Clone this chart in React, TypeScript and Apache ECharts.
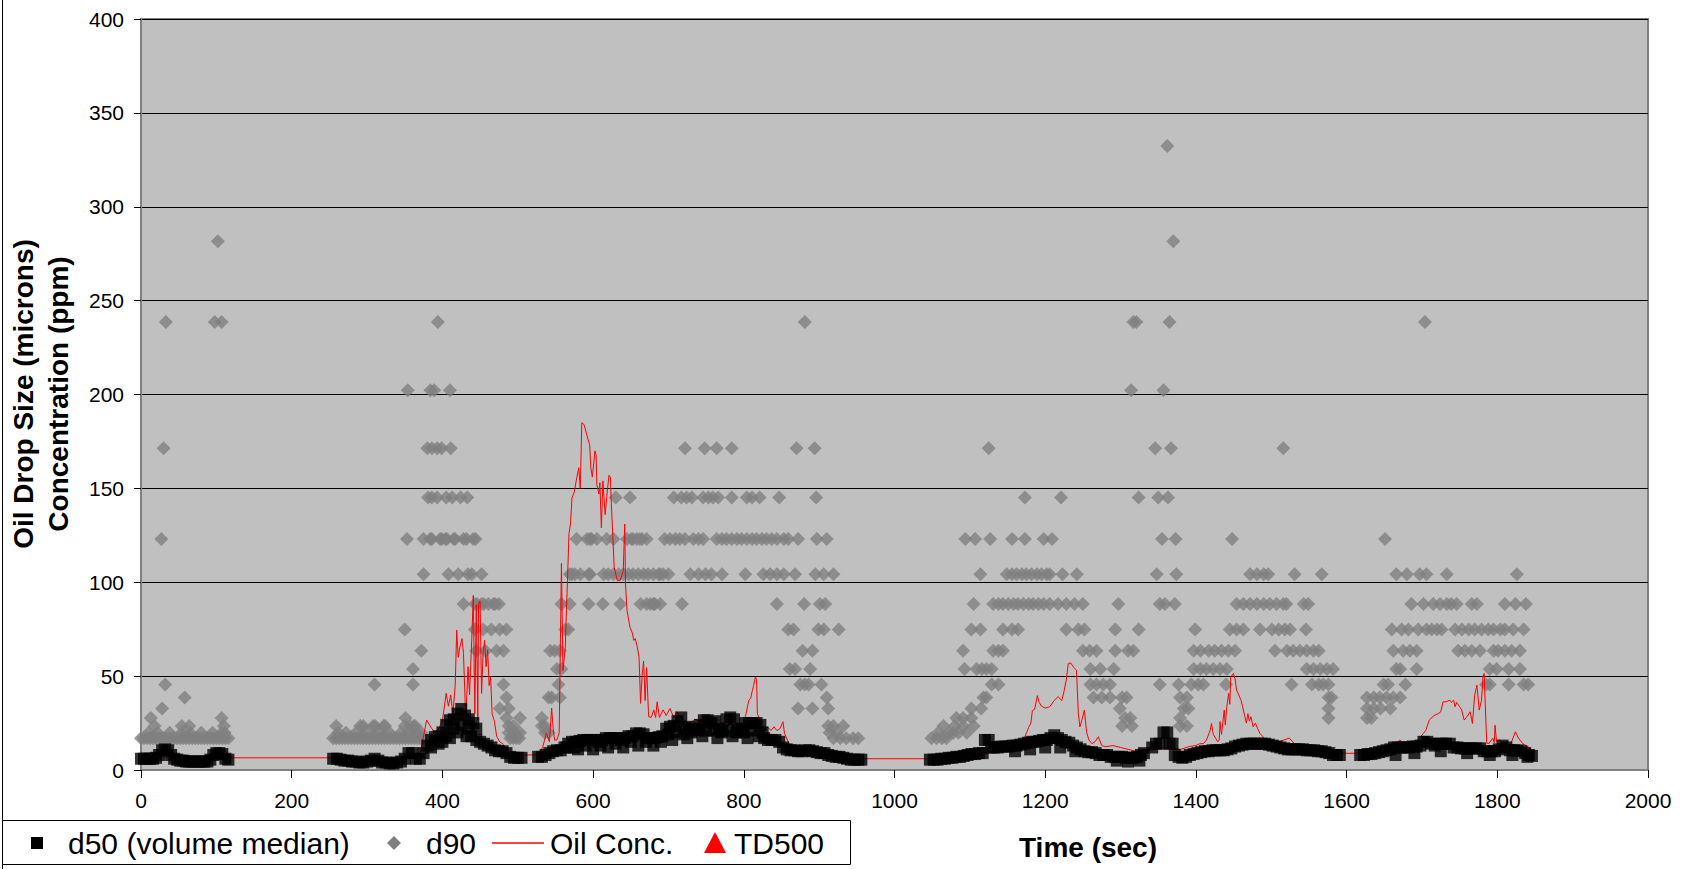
import React, { useEffect, useRef } from "react";
import * as echarts from "echarts";

const FONT = '"Liberation Sans", Arial, sans-serif';

// x axis (Time, sec) and y axis (Oil drop size / concentration) ranges
const xRange = [0, 2000, 200];
const yRange = [0, 400, 50];

// d90 size bins (microns) and the times (sec) at which d90 falls in each bin
const d90Levels = [16.9, 19.9, 23.5, 27.7, 32.7, 38.6, 45.6, 53.8, 63.5, 74.9, 88.4, 104.3, 123.1, 145.2, 171.4, 202.2, 238.6, 281.6, 332.4];
const d90Times: number[][] = [
  [0, 4, 8, 12, 16, 20, 24, 28, 32, 36, 40, 44, 48, 52, 56, 60, 64, 68, 72, 76, 80, 84, 88, 92, 96, 100, 104, 108, 112, 116, 255, 259, 263, 267, 271, 275, 279, 283, 287, 291, 295, 299, 303, 307, 311, 315, 319, 323, 327, 331, 335, 339, 343, 347, 351, 355, 359, 363, 367, 371, 375, 490, 494, 498, 502, 919, 928, 936, 945, 952, 1049, 1056, 1063, 1069],
  [10, 22, 38, 54, 65, 80, 95, 107, 111, 262, 272, 285, 300, 315, 330, 345, 355, 366, 372, 488, 497, 503, 536, 541, 914, 923, 1058, 1072, 1078, 1085, 1096],
  [18, 54, 64, 110, 259, 291, 295, 308, 311, 322, 324, 350, 357, 362, 364, 488, 494, 532, 536, 912, 919, 932, 1065, 1080, 1091, 1105, 1302, 1315, 1379, 1388],
  [13, 107, 351, 485, 503, 532, 1082, 1091, 1102, 1306, 1313, 1379, 1576, 1627, 1633],
  [28, 476, 488, 872, 891, 912, 1102, 1115, 1299, 1384, 1390, 1576, 1627, 1636, 1645, 1658],
  [58, 485, 541, 545, 556, 910, 1118, 1122, 1264, 1275, 1286, 1302, 1308, 1379, 1388, 1576, 1580, 1627, 1636, 1644, 1653, 1662, 1671],
  [32, 310, 361, 481, 554, 875, 881, 886, 903, 1129, 1138, 1260, 1268, 1277, 1286, 1352, 1377, 1394, 1403, 1410, 1440, 1527, 1554, 1563, 1569, 1576, 1649, 1655, 1678, 1785, 1790, 1815, 1835, 1841],
  [361, 552, 558, 861, 868, 888, 1093, 1109, 1116, 1122, 1129, 1260, 1273, 1291, 1397, 1406, 1414, 1423, 1432, 1441, 1547, 1556, 1565, 1574, 1582, 1666, 1671, 1693, 1790, 1799, 1815, 1830],
  [372, 445, 457, 472, 481, 543, 549, 556, 878, 891, 1091, 1131, 1138, 1144, 1250, 1259, 1268, 1293, 1310, 1317, 1397, 1406, 1417, 1425, 1434, 1443, 1452, 1505, 1521, 1529, 1538, 1547, 1556, 1563, 1662, 1675, 1684, 1693, 1748, 1757, 1766, 1777, 1795, 1801, 1810, 1819, 1830],
  [350, 443, 454, 465, 476, 485, 563, 567, 859, 866, 899, 906, 926, 1102, 1114, 1144, 1156, 1164, 1228, 1244, 1252, 1293, 1324, 1399, 1445, 1454, 1463, 1485, 1501, 1510, 1518, 1525, 1546, 1660, 1673, 1682, 1695, 1706, 1713, 1720, 1726, 1744, 1753, 1762, 1770, 1779, 1788, 1795, 1804, 1810, 1821, 1835],
  [428, 443, 446, 452, 455, 461, 468, 470, 475, 558, 569, 594, 613, 636, 663, 671, 676, 680, 682, 689, 718, 844, 880, 901, 908, 1105, 1131, 1138, 1144, 1151, 1158, 1164, 1171, 1178, 1184, 1191, 1198, 1206, 1217, 1228, 1239, 1250, 1297, 1352, 1359, 1372, 1454, 1463, 1472, 1481, 1490, 1498, 1507, 1516, 1520, 1543, 1549, 1686, 1702, 1715, 1724, 1733, 1739, 1746, 1766, 1773, 1810, 1824, 1838],
  [375, 408, 421, 434, 439, 452, 569, 572, 576, 583, 594, 596, 614, 620, 627, 634, 640, 647, 653, 660, 667, 673, 680, 687, 689, 693, 700, 729, 740, 749, 757, 771, 802, 826, 835, 844, 853, 868, 895, 906, 919, 1114, 1149, 1156, 1162, 1169, 1175, 1182, 1189, 1195, 1202, 1206, 1223, 1242, 1348, 1374, 1472, 1481, 1490, 1496, 1531, 1567, 1666, 1680, 1697, 1706, 1733, 1826],
  [27, 353, 375, 384, 386, 397, 399, 404, 406, 415, 417, 428, 432, 441, 444, 578, 592, 596, 598, 605, 618, 627, 645, 651, 653, 658, 662, 665, 671, 695, 702, 709, 715, 722, 733, 740, 746, 764, 771, 777, 784, 791, 797, 804, 811, 817, 824, 830, 837, 844, 853, 859, 872, 897, 910, 1094, 1107, 1127, 1156, 1173, 1198, 1209, 1355, 1373, 1448, 1651],
  [381, 386, 393, 405, 413, 424, 433, 630, 649, 707, 717, 724, 731, 746, 753, 759, 766, 784, 804, 811, 821, 847, 896, 1173, 1221, 1324, 1350, 1363],
  [30, 380, 386, 393, 399, 411, 722, 748, 764, 784, 870, 894, 1125, 1346, 1367, 1516],
  [354, 384, 389, 410, 1314, 1357],
  [33, 98, 107, 394, 881, 1317, 1321, 1365, 1704],
  [102, 1370],
  [1362],
];

// d50 (volume median), [time sec, microns]
const d50Points: number[][] = [
  [0, 6], [4, 6], [8, 6], [12, 6], [16, 6], [20, 6.5], [24, 8], [28, 10.5], [32, 11], [36, 10.5], [40, 8], [44, 6], [48, 5.5], [52, 5], [56, 5], [60, 4.5], [64, 4.5], [68, 4.5], [72, 4.5], [76, 4.5], [80, 4.5], [84, 4.5], [88, 4.5], [92, 5.5], [96, 8], [100, 9], [104, 9], [108, 8.5], [112, 6], [116, 5.5],
  [255, 6], [260, 6], [265, 5.5], [270, 5], [275, 5], [280, 4.5], [285, 4.5], [290, 4], [295, 4], [300, 4.5], [305, 5], [310, 6], [315, 5], [320, 4], [325, 4], [330, 3.5], [335, 3.5], [340, 4], [345, 4.5], [350, 6], [355, 9], [360, 9], [365, 6], [370, 6], [375, 9], [380, 13], [385, 16], [390, 17.5], [395, 18], [400, 20], [405, 24], [410, 26.5], [415, 27], [420, 30], [425, 32.5], [430, 29], [435, 27], [438, 18], [441, 25], [445, 22], [450, 15], [455, 14], [460, 13], [465, 12], [470, 10.5], [475, 10], [480, 10], [485, 9], [490, 7], [495, 6.5], [500, 6.5], [505, 6.5],
  [385, 12], [395, 14], [400, 15], [405, 18], [410, 17], [415, 22], [420, 20], [425, 24], [432, 18], [435, 22], [445, 16],
  [527, 7], [532, 7], [537, 8], [542, 9], [547, 10], [552, 10.5], [557, 10.5], [562, 12], [567, 14], [572, 15], [577, 15], [582, 15.5], [587, 16], [592, 16], [597, 16], [602, 16], [607, 15], [612, 16], [617, 17], [622, 17], [627, 17], [632, 17], [637, 16], [642, 17], [647, 18], [652, 18], [657, 19.5], [662, 19.5], [667, 19], [672, 17], [677, 17], [682, 17], [687, 17.5], [692, 18], [697, 22], [702, 23], [707, 23.5], [712, 26], [717, 28], [722, 22], [727, 23], [732, 22], [737, 21.5], [742, 24], [747, 26.5], [752, 26.5], [757, 25], [762, 26], [767, 22], [772, 21], [777, 27], [782, 28], [787, 27], [792, 21], [797, 22], [802, 25], [807, 25], [812, 25], [817, 25], [822, 24], [827, 17], [832, 16], [837, 16], [842, 16], [847, 15], [852, 12], [857, 11], [862, 10.5], [867, 10.5], [872, 10], [877, 10], [882, 10.5], [887, 10.5], [892, 10], [897, 9.5], [902, 9], [907, 9], [912, 8], [917, 7.5], [922, 7], [927, 7], [932, 6.5], [937, 6], [942, 5.5], [947, 5.5], [952, 5.5], [956, 5.5],
  [565, 12], [575, 12], [580, 11], [590, 13], [600, 11], [610, 13], [620, 12], [630, 14], [640, 12], [650, 15], [660, 13], [670, 15], [680, 13], [690, 15],
  [700, 19], [705, 16], [710, 20], [720, 19], [725, 17], [730, 20], [740, 21], [745, 18], [750, 21], [760, 21], [765, 17], [770, 20], [780, 21], [785, 18], [790, 20], [800, 20], [805, 17], [810, 21], [820, 18], [825, 20],
  [1047, 5.5], [1052, 5.5], [1057, 5.5], [1062, 6], [1067, 6], [1072, 6.5], [1077, 6.5], [1082, 7], [1087, 7], [1092, 7.5], [1097, 8], [1102, 8.5], [1107, 8.5], [1112, 9], [1117, 9], [1120, 16], [1125, 16], [1128, 12], [1132, 12], [1137, 12], [1142, 12.5], [1147, 12.5], [1152, 12.5], [1157, 13], [1162, 13], [1167, 13.5], [1172, 14], [1177, 14.5], [1182, 15], [1187, 15], [1192, 15.5], [1197, 16], [1202, 16], [1207, 17], [1212, 18.5], [1217, 17], [1222, 16], [1227, 15], [1232, 14.5], [1237, 13], [1242, 12], [1247, 11], [1252, 10], [1257, 9.5], [1262, 9.5], [1267, 9], [1272, 8], [1277, 8], [1282, 8], [1287, 7], [1292, 7], [1297, 7], [1302, 7], [1307, 6.5], [1312, 6.5], [1317, 6.5], [1322, 7], [1327, 8], [1331, 9],
  [1160, 10], [1180, 11], [1200, 12], [1220, 12], [1240, 10], [1295, 5], [1310, 4.5], [1325, 5],
  [1342, 12], [1347, 14], [1352, 14], [1357, 20], [1362, 20], [1365, 14], [1369, 14], [1372, 8], [1377, 7], [1382, 6.5], [1387, 7], [1392, 8], [1397, 8.5], [1402, 9], [1407, 9.5], [1412, 10], [1417, 10], [1422, 10.5], [1427, 10.5], [1432, 10.5], [1437, 10.5], [1442, 11], [1447, 11.5], [1452, 12.5], [1457, 13], [1462, 13.5], [1467, 14], [1472, 14], [1477, 14], [1482, 14], [1487, 14], [1492, 14], [1497, 13.5], [1502, 13], [1507, 12.5], [1512, 12], [1517, 11.5], [1522, 11], [1527, 11], [1532, 11], [1537, 11], [1542, 11], [1547, 10.5], [1552, 10.5], [1557, 10.5], [1562, 10], [1567, 10], [1572, 9.5], [1577, 9], [1582, 8], [1587, 8], [1591, 8],
  [1618, 8], [1623, 8], [1628, 8.5], [1633, 8.5], [1638, 9], [1643, 9.5], [1648, 10], [1653, 10.5], [1658, 11], [1663, 12], [1668, 12], [1673, 12], [1678, 12], [1683, 12], [1688, 12.5], [1693, 12.5], [1698, 13], [1702, 15], [1707, 15], [1712, 14], [1717, 13], [1722, 14], [1727, 14], [1732, 14], [1737, 14], [1742, 12], [1747, 12], [1752, 11.5], [1757, 11.5], [1762, 11.5], [1767, 11.5], [1772, 11.5], [1777, 11.5], [1782, 10], [1787, 10], [1792, 10], [1797, 10], [1802, 11], [1807, 13], [1812, 12], [1817, 10.5], [1822, 10.5], [1827, 10.5], [1832, 10], [1837, 9], [1842, 8], [1846, 7.5],
  [1665, 8], [1690, 9], [1725, 10], [1760, 9], [1790, 8], [1820, 8], [1840, 7],
];

// Oil concentration (ppm), [time sec, ppm]
const oilConc: number[][] = [
  [0, 6], [30, 7], [60, 6], [90, 6], [116, 6.5], [255, 6.5], [300, 5], [340, 5], [370, 8],
  [376, 20], [379, 26.6], [383, 24], [386, 22], [390, 20], [395, 22], [400, 26], [405, 40.8], [408, 34], [411, 40], [414, 30], [417, 45], [419, 74.5], [421, 60], [423, 65], [426, 70], [428, 62], [431, 26.6], [434, 55], [436, 40], [439, 70], [441, 93], [443, 30], [445, 88], [447, 26.6], [448, 88.6], [450, 90], [452, 40.8], [454, 62], [456, 69], [458, 55], [460, 64], [462, 45], [464, 49.6], [466, 30], [469, 26], [472, 18], [476, 15], [480, 14], [485, 10], [490, 8], [500, 8], [512, 8], [527, 8],
  [533, 12], [538, 19.7], [542, 15], [545, 33], [547, 22], [549, 15.9], [552, 16], [555, 20], [558, 110], [560, 53], [563, 65], [566, 101], [568, 126], [570, 131], [572, 145], [575, 148], [578, 155], [581, 161], [583, 150], [585, 185], [588, 184], [592, 178], [595.5, 173], [597, 161], [599, 156], [602.5, 170], [604, 167.6], [605, 152], [607.7, 147], [609, 153], [611, 129], [613, 154], [616, 136], [618, 145], [621, 157], [623, 156], [624, 144], [626, 126], [628, 108], [632, 101], [636, 101], [640, 106], [642, 131], [643, 99], [645, 85], [649, 76], [652, 73], [654, 69], [656, 70], [658.6, 65.6], [661, 60], [663, 35.5], [665, 50], [667, 58], [669, 37], [671, 54.6], [673.7, 28.4], [677, 28], [680.5, 32], [683, 28], [685, 36.3], [688, 28], [692.8, 32], [697, 29], [702, 32.8], [707, 28], [711, 31], [716, 28.4], [722, 26], [728, 24.8], [735, 27], [742, 26], [750, 26], [758, 25], [765, 27], [772, 25], [780, 26], [788, 24], [795, 25], [800, 24.8], [803, 30], [806.7, 37.2], [809, 38], [811, 41.7], [813, 45], [815.4, 49.6], [817, 48], [818, 30], [820, 28], [823, 21], [828, 23], [832, 22.7], [836, 21], [840, 23], [844, 21], [848, 22], [852, 25.7], [854, 19.5], [860, 14], [870, 10], [890, 9], [910, 8], [930, 7], [957, 6],
  [1047, 6], [1080, 7], [1110, 8], [1140, 10], [1160, 12], [1168, 14], [1171, 16], [1175, 19.5], [1178, 22.7], [1181, 25], [1183, 31.6], [1186, 32.4], [1189.6, 39.6], [1192, 36], [1195, 34], [1200, 33], [1206, 33.7], [1212, 37], [1217, 39.1], [1222, 37], [1225, 42], [1228, 48], [1230.7, 56.7], [1234, 57], [1237, 55], [1241.5, 53.2], [1244, 30], [1246, 23], [1249, 27], [1252, 31.9], [1255, 20], [1258, 16], [1262, 14], [1266, 15], [1270.5, 17.7], [1275, 13], [1280, 12.4], [1290, 13], [1300, 12], [1310, 11], [1320, 10], [1331, 10.6], [1342, 10.6], [1360, 12], [1380, 11], [1390, 12.4],
  [1400, 13], [1405, 14], [1410, 14], [1414, 16], [1416.6, 18.6], [1419, 21.3], [1420.7, 24.8], [1423, 19], [1426, 17], [1429, 15], [1431, 16], [1432, 25.7], [1434, 19], [1437.6, 31.9], [1439, 24], [1440, 28.4], [1441, 33.7], [1443.5, 40.8], [1445, 35], [1446.3, 49.6], [1449.8, 51.4], [1452, 48.5], [1454, 42.6], [1457, 39.9], [1460, 37], [1462, 33.7], [1465, 28.4], [1467, 25], [1469, 30], [1471, 26], [1473, 28.4], [1476, 23], [1479, 25], [1482, 22], [1485, 19.5], [1489, 17.7], [1494, 15], [1500, 16], [1510, 15], [1524, 17], [1535, 12], [1550, 11], [1570, 10], [1591, 8.9],
  [1618, 8.9], [1640, 10], [1660, 12], [1670.8, 16], [1675, 14], [1690, 14], [1701.9, 19.5], [1705, 21], [1709.7, 26.6], [1712, 27.5], [1716, 29], [1721.8, 30.1], [1725, 31], [1728, 36.3], [1732, 36.3], [1737, 37.2], [1739, 36], [1742, 37.2], [1744, 33.7], [1746, 36], [1750, 33.7], [1752.7, 32], [1756, 26.6], [1759, 28], [1764, 31], [1767, 24.8], [1770, 39.9], [1773, 45.2], [1776, 31.9], [1779, 37], [1781, 49.6], [1782.5, 51.4], [1784, 35], [1786, 14.2], [1789, 14.2], [1794, 16.9], [1796, 14.5], [1797, 23.9], [1799, 15], [1803, 16], [1808, 14], [1814, 13], [1818, 14], [1824, 20.4], [1828, 17], [1830, 16], [1834, 14], [1837, 13.3], [1842, 12], [1846, 10],
];

const legendNames = ["d50 (volume median)", "d90", "Oil Conc.", "TD500"];
const xTitle = "Time (sec)";
const yTitle = "Oil Drop Size (microns)\nConcentration (ppm)";

export default function App() {
  const ref = useRef<HTMLDivElement>(null);
  useEffect(() => {
    if (!ref.current) return;
    const chart = echarts.init(ref.current, null, { renderer: "svg" });
    const d90Data: number[][] = [];
    d90Times.forEach((times, i) => times.forEach((t) => d90Data.push([t, d90Levels[i]])));
    const ly = 843;
    const lf = `30px ${FONT}`;
    chart.setOption({
      animation: false,
      backgroundColor: "#ffffff",
      grid: {
        left: 141, top: 19, right: 40, bottom: 99,
        show: true, backgroundColor: "#C0C0C0", borderColor: "#808080", borderWidth: 2,
      },
      xAxis: {
        type: "value", min: xRange[0], max: xRange[1], interval: xRange[2],
        axisLine: { show: true, lineStyle: { color: "#808080", width: 2 } },
        axisTick: { show: true, length: 8, lineStyle: { color: "#000", width: 1 } },
        axisLabel: { margin: 20, fontSize: 21, color: "#000", fontFamily: FONT, formatter: (v: number) => String(v) },
        splitLine: { show: false },
      },
      yAxis: {
        type: "value", min: yRange[0], max: yRange[1], interval: yRange[2],
        axisLine: { show: true, lineStyle: { color: "#808080", width: 2 } },
        axisTick: { show: true, length: 7, lineStyle: { color: "#000", width: 1 } },
        axisLabel: { margin: 17, fontSize: 21, color: "#000", fontFamily: FONT, formatter: (v: number) => String(v) },
        splitLine: { show: true, lineStyle: { color: "#000", width: 1 } },
      },
      series: [
        { name: "d90", type: "scatter", data: d90Data, symbol: "diamond", symbolSize: 14, itemStyle: { color: "#808080" }, z: 2 },
        { name: "Oil Conc.", type: "line", data: oilConc, symbol: "none", showSymbol: false, lineStyle: { color: "#ff0000", width: 1 }, z: 3 },
        { name: "d50 (volume median)", type: "scatter", data: d50Points, symbol: "rect", symbolSize: 12, itemStyle: { color: "#000" }, z: 4 },
        { name: "TD500", type: "scatter", data: [], symbol: "triangle", itemStyle: { color: "#ff0000" } },
      ],
      graphic: [
        { type: "line", shape: { x1: 2.5, y1: 0, x2: 2.5, y2: 869 }, style: { stroke: "#000", lineWidth: 1 } },
        { type: "rect", shape: { x: 2.5, y: 820.5, width: 848, height: 44 }, style: { fill: "#fff", stroke: "#000", lineWidth: 1 } },
        { type: "rect", shape: { x: 31, y: ly - 6, width: 12, height: 12 }, style: { fill: "#000" } },
        { type: "text", x: 68, y: ly, style: { text: legendNames[0], font: lf, fill: "#000", verticalAlign: "middle", align: "left" } },
        { type: "polygon", shape: { points: [[394, ly - 7], [401, ly], [394, ly + 7], [387, ly]] }, style: { fill: "#808080" } },
        { type: "text", x: 426, y: ly, style: { text: legendNames[1], font: lf, fill: "#000", verticalAlign: "middle", align: "left" } },
        { type: "line", shape: { x1: 492, y1: ly, x2: 544, y2: ly }, style: { stroke: "#ff0000", lineWidth: 1.5 } },
        { type: "text", x: 550, y: ly, style: { text: legendNames[2], font: lf, fill: "#000", verticalAlign: "middle", align: "left" } },
        { type: "polygon", shape: { points: [[715, ly - 11], [726, ly + 10], [704, ly + 10]] }, style: { fill: "#ff0000" } },
        { type: "text", x: 734, y: ly, style: { text: legendNames[3], font: lf, fill: "#000", verticalAlign: "middle", align: "left" } },
        { type: "text", x: 1088, y: 847, style: { text: xTitle, font: `bold 28px ${FONT}`, fill: "#000", verticalAlign: "middle", align: "center" } },
        { type: "text", x: 41, y: 394, rotation: Math.PI / 2, style: { text: yTitle, font: `bold 28px ${FONT}`, fill: "#000", verticalAlign: "middle", align: "center", lineHeight: 35 } },
      ],
    });
    return () => chart.dispose();
  }, []);
  return <div ref={ref} style={{ position: "absolute", left: 0, top: 0, width: 1688, height: 869 }} />;
}
